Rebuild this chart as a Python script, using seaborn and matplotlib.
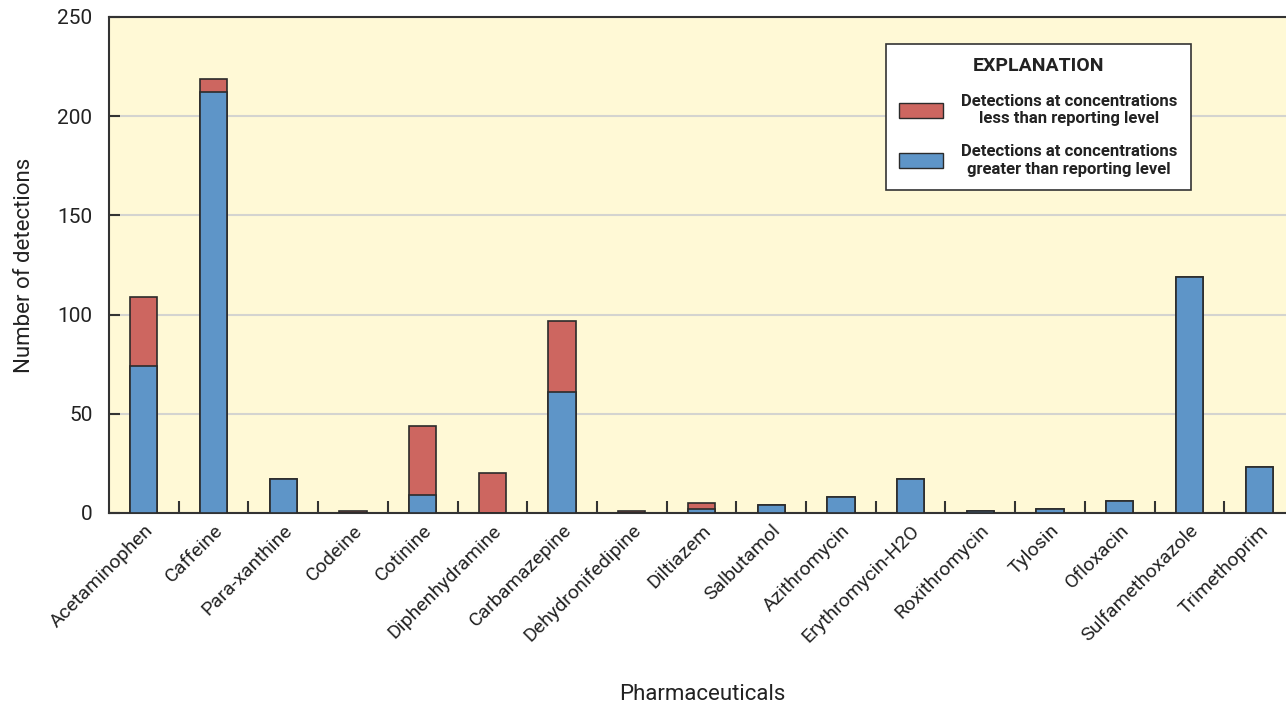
import matplotlib
matplotlib.use("Agg")
import matplotlib.pyplot as plt
from matplotlib.patches import Patch
from matplotlib.ticker import MultipleLocator, FixedLocator
import seaborn as sns
import pandas as pd
import numpy as np

# Detection counts by compound
compounds = ["Acetaminophen", "Caffeine", "Para-xanthine", "Codeine", "Cotinine",
             "Diphenhydramine", "Carbamazepine", "Dehydronifedipine", "Diltiazem",
             "Salbutamol", "Azithromycin", "Erythromycin-H2O", "Roxithromycin",
             "Tylosin", "Ofloxacin", "Sulfamethoxazole", "Trimethoprim"]
above_rl = [74, 212, 17, 0, 9, 0, 61, 0, 2, 4, 8, 17, 1, 2, 6, 119, 23]
below_rl = [35, 7, 0, 1, 35, 20, 36, 1, 3, 0, 0, 0, 0, 0, 0, 0, 0]

df = pd.DataFrame({
    "compound": compounds,
    "above": above_rl,
    "total": np.array(above_rl) + np.array(below_rl),
})

RED = "#CD6660"
BLUE = "#5E95C8"
BG = "#FFF9D6"
EDGE = "#2b2b2b"
INK = "#222222"

sns.set_style("ticks")
plt.rcParams["font.family"] = ["Roboto", "DejaVu Sans"]

fig = plt.figure(figsize=(12.86, 7.08), dpi=100)
ax = fig.add_axes([109 / 1286, 1 - 513 / 708, 1185 / 1286, 496 / 708])
ax.set_facecolor(BG)

# stacked bars: totals drawn in red, the above-reporting-level part drawn over it in blue
sns.barplot(data=df, x="compound", y="total", color=RED, width=0.39,
            edgecolor=EDGE, linewidth=1.2, saturation=1, ax=ax, zorder=3)
sns.barplot(data=df, x="compound", y="above", color=BLUE, width=0.39,
            edgecolor=EDGE, linewidth=1.2, saturation=1, ax=ax, zorder=4)

ax.set_xlim(-0.5, len(compounds) - 0.5)
ax.set_ylim(0, 250)
ax.yaxis.set_major_locator(MultipleLocator(50))
ax.grid(axis="y", color="#d4d4d0", linewidth=1.5, zorder=1)
ax.set_axisbelow(True)

# category separators as minor ticks, no ticks at bar centers
ax.xaxis.set_minor_locator(FixedLocator(np.arange(0.5, len(compounds) - 1, 1.0)))
ax.tick_params(axis="x", which="major", length=0, pad=6)
ax.tick_params(axis="x", which="minor", direction="in", length=9, width=1.5, color="#333333")
ax.tick_params(axis="y", direction="in", length=8, width=1.5, color="#333333", pad=12)

for lab in ax.get_xticklabels():
    lab.set_rotation(45)
    lab.set_ha("right")
    lab.set_rotation_mode("anchor")
    lab.set_fontsize(14)
    lab.set_color(INK)
for lab in ax.get_yticklabels():
    lab.set_fontsize(15)
    lab.set_color(INK)

for s in ax.spines.values():
    s.set_color("#333333")
    s.set_linewidth(1.5)

ax.set_xlabel("Pharmaceuticals", fontsize=16, color=INK)
ax.set_ylabel("Number of detections", fontsize=16, color=INK, labelpad=16)
ax.xaxis.set_label_coords((702 - 109) / 1185, -(684 - 513) / 496)

handles = [
    Patch(facecolor=RED, edgecolor=EDGE, linewidth=1.0,
          label="Detections at concentrations\nless than reporting level"),
    Patch(facecolor=BLUE, edgecolor=EDGE, linewidth=1.0,
          label="Detections at concentrations\ngreater than reporting level"),
]
leg = ax.legend(handles=handles, title="EXPLANATION", loc="upper left",
                bbox_to_anchor=((886 - 109) / 1185, 1 - (44 - 17) / 496),
                frameon=True, fancybox=False, edgecolor="#333333", facecolor="white",
                framealpha=1, prop={"weight": "bold", "size": 12},
                title_fontproperties={"weight": "bold", "size": 14},
                handlelength=2.6, handleheight=1.0, labelspacing=1.1,
                borderpad=0.8, handletextpad=1.1, borderaxespad=0)
for t in leg.get_texts():
    t.set_multialignment("center")
    t.set_color(INK)
leg.get_title().set_color(INK)
leg.get_frame().set_linewidth(1.2)
leg.set_zorder(10)

fig.savefig("out.png", dpi=100, facecolor="white")
